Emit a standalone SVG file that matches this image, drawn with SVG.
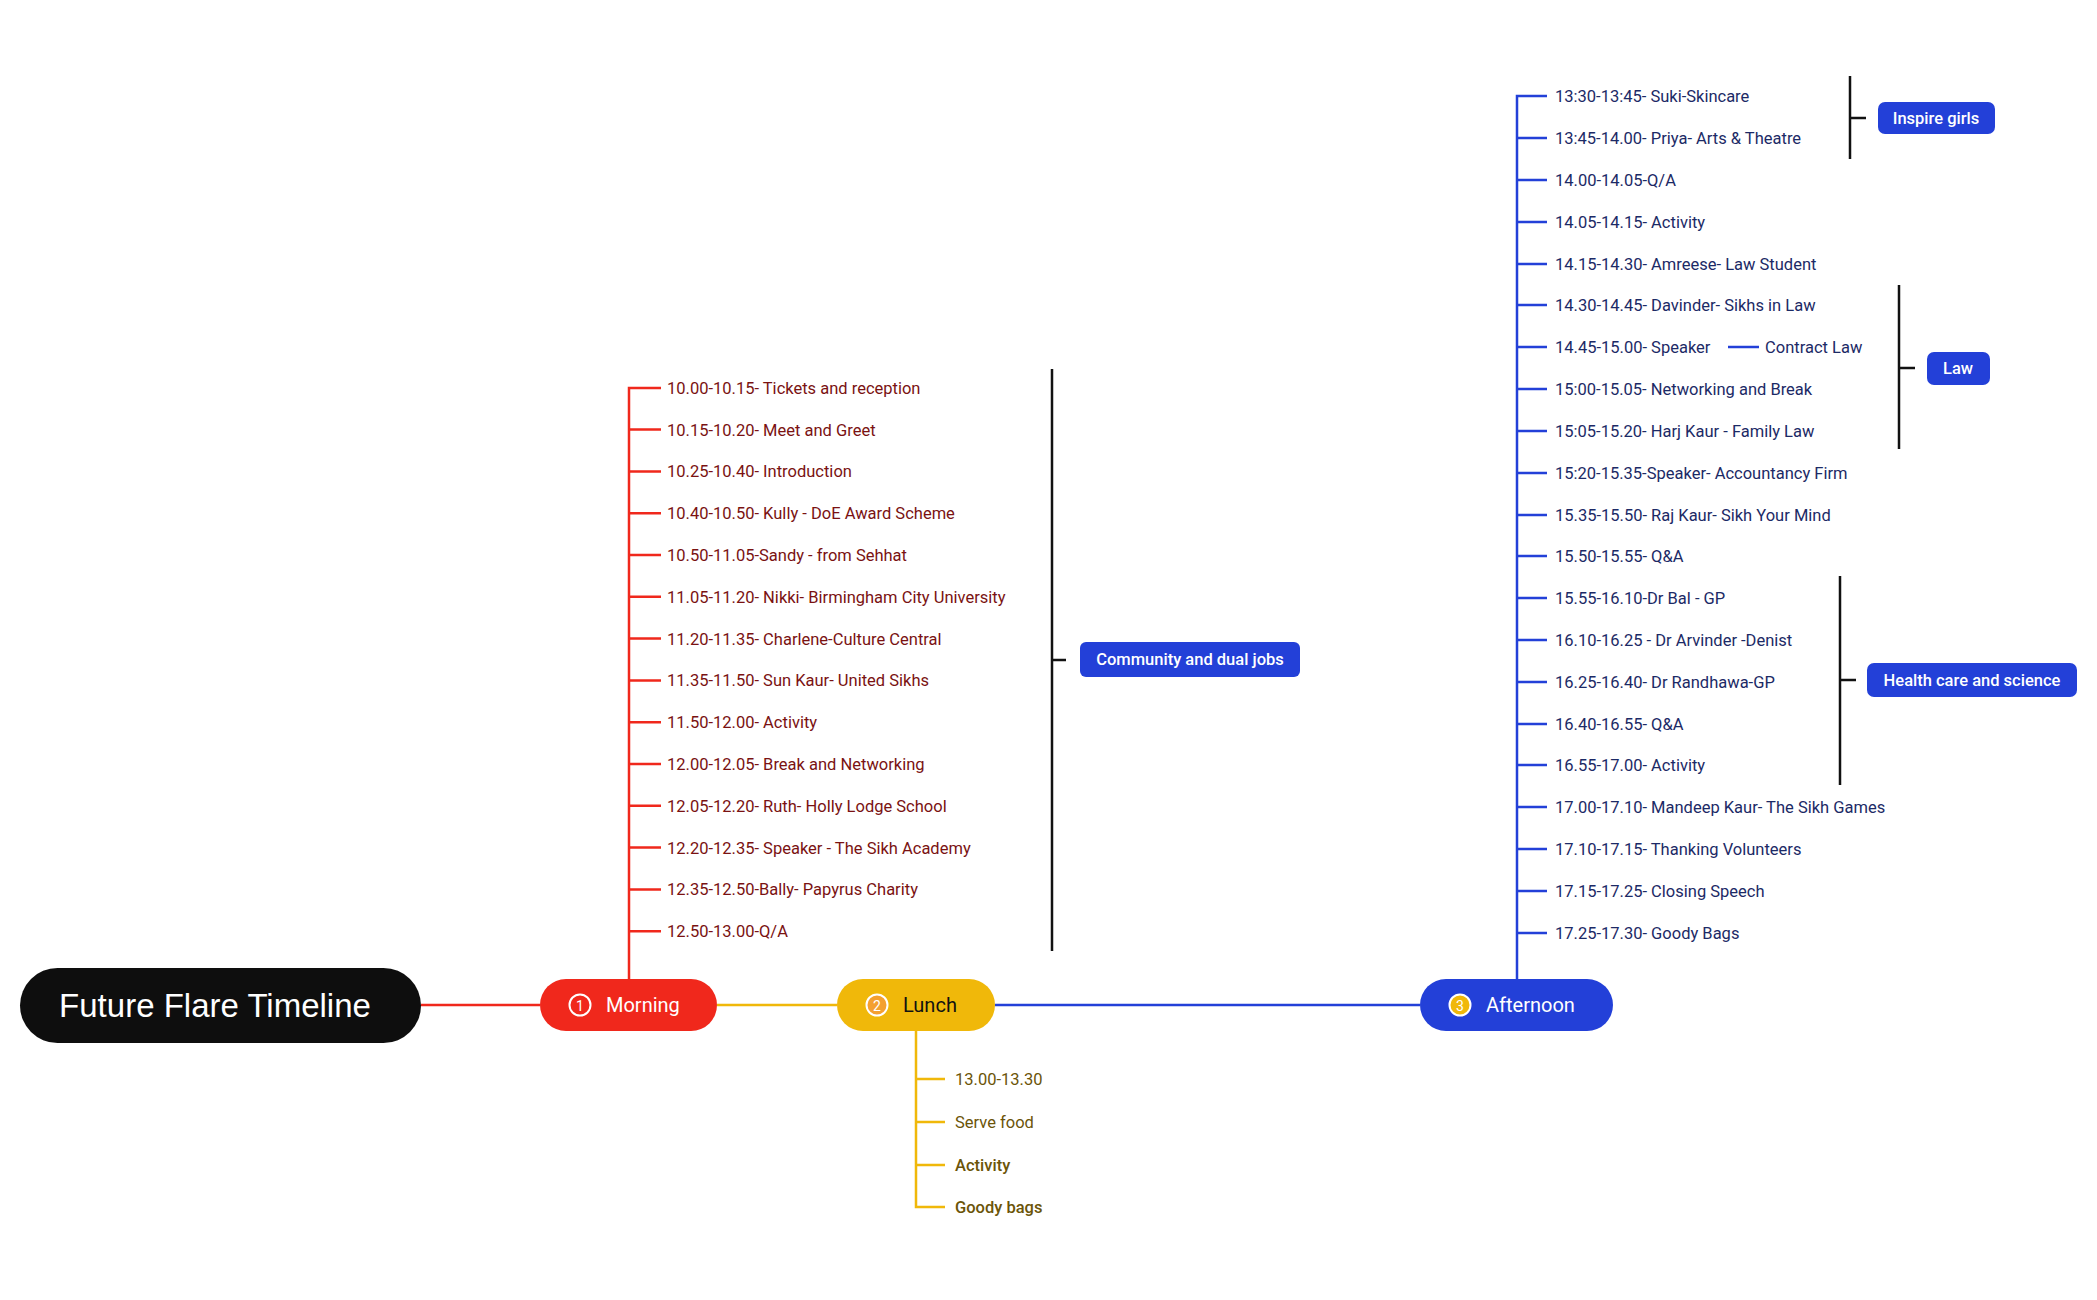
<svg xmlns="http://www.w3.org/2000/svg" width="2097" height="1300" viewBox="0 0 2097 1300">
<style>
text{font-family:Roboto,"Liberation Sans",sans-serif}
.m{fill:#7a1212;font-size:16.5px}
.a{fill:#1c2a66;font-size:16.5px}
.l{fill:#6b5408;font-size:16.5px}
.tag{fill:#ffffff;font-size:16.5px;font-weight:500}
.red{stroke:#f0281c;stroke-width:2.5;fill:none}
.blu{stroke:#2340d8;stroke-width:2.5;fill:none}
.yel{stroke:#f0b80a;stroke-width:2.5;fill:none}
.blk{stroke:#111;stroke-width:2.5;fill:none}
.box{fill:#2340d8}
</style>
<g id="connectors">
<line class="red" x1="421" y1="1005" x2="540" y2="1005" stroke-width="3.5"/>
<line class="yel" x1="717" y1="1005" x2="837" y2="1005" stroke-width="3.5"/>
<line class="blu" x1="995" y1="1005" x2="1420" y2="1005" stroke-width="3.5"/>
<path class="red" d="M629 979V388H661M629 429.6H661M629 471.4H661M629 513.2H661M629 555H661M629 596.8H661M629 638.6H661M629 680.4H661M629 722.2H661M629 764H661M629 805.8H661M629 847.6H661M629 889.4H661M629 931.2H661"/>
<path class="blu" d="M1517 979V96H1547M1517 138H1547M1517 180H1547M1517 222H1547M1517 264H1547M1517 305H1547M1517 347H1547M1517 389H1547M1517 431H1547M1517 473H1547M1517 515H1547M1517 556H1547M1517 598H1547M1517 640H1547M1517 682H1547M1517 724H1547M1517 765H1547M1517 807H1547M1517 849H1547M1517 891H1547M1517 933H1547"/>
<line class="blu" x1="1728" y1="347" x2="1759" y2="347"/>
<path class="yel" d="M916 1031V1207H945M916 1079H945M916 1122H945M916 1165H945"/>
<path class="blk" d="M1052 369V951M1052 660H1066"/>
<path class="blk" d="M1850 76V159M1850 118H1866"/>
<path class="blk" d="M1899 285V449M1899 368H1915"/>
<path class="blk" d="M1840 576V785M1840 680H1856"/>
</g>
<g id="root"><rect x="20" y="968" width="401" height="75" rx="37.5" fill="#0e0e0e"/><text x="215" y="1017" text-anchor="middle" font-size="33" fill="#fff" style="font-family:'Liberation Sans',Arial,sans-serif">Future Flare Timeline</text></g>
<g id="morning"><rect x="540" y="979" width="177" height="52" rx="26" fill="#f0281c"/><circle cx="580" cy="1005" r="10.5" fill="none" stroke="#fff" stroke-width="2"/><text x="580" y="1011" text-anchor="middle" font-size="14" fill="#fff">1</text><text x="606" y="1012" font-size="20" fill="#fff">Morning</text></g>
<g id="lunch"><rect x="837" y="979" width="158" height="52" rx="26" fill="#f0b80a"/><circle cx="877" cy="1005" r="10.5" fill="#f4a030" stroke="#fff" stroke-width="2"/><text x="877" y="1011" text-anchor="middle" font-size="14" fill="#fff">2</text><text x="903" y="1012" font-size="20" fill="#111">Lunch</text></g>
<g id="afternoon"><rect x="1420" y="979" width="193" height="52" rx="26" fill="#2340d8"/><circle cx="1460" cy="1005" r="10.5" fill="#f0b80a" stroke="#fff" stroke-width="2"/><text x="1460" y="1011" text-anchor="middle" font-size="14" fill="#fff">3</text><text x="1486" y="1012" font-size="20" fill="#fff">Afternoon</text></g>
<g id="morning-items">
<text class="m" x="667" y="394">10.00-10.15- Tickets and reception</text>
<text class="m" x="667" y="436">10.15-10.20- Meet and Greet</text>
<text class="m" x="667" y="477">10.25-10.40- Introduction</text>
<text class="m" x="667" y="519">10.40-10.50- Kully - DoE Award Scheme</text>
<text class="m" x="667" y="561">10.50-11.05-Sandy - from Sehhat</text>
<text class="m" x="667" y="603">11.05-11.20- Nikki- Birmingham City University</text>
<text class="m" x="667" y="645">11.20-11.35- Charlene-Culture Central</text>
<text class="m" x="667" y="686">11.35-11.50- Sun Kaur- United Sikhs</text>
<text class="m" x="667" y="728">11.50-12.00- Activity</text>
<text class="m" x="667" y="770">12.00-12.05- Break and Networking</text>
<text class="m" x="667" y="812">12.05-12.20- Ruth- Holly Lodge School</text>
<text class="m" x="667" y="854">12.20-12.35- Speaker - The Sikh Academy</text>
<text class="m" x="667" y="895">12.35-12.50-Bally-  Papyrus Charity</text>
<text class="m" x="667" y="937">12.50-13.00-Q/A</text>
</g>
<g id="community"><rect class="box" x="1080" y="642" width="220" height="35" rx="6"/><text class="tag" x="1190" y="665" text-anchor="middle">Community and dual jobs</text></g>
<g id="lunch-items">
<text class="l" x="955" y="1085">13.00-13.30</text>
<text class="l" x="955" y="1128">Serve food</text>
<text class="l" x="955" y="1171" font-weight="500">Activity</text>
<text class="l" x="955" y="1213" font-weight="500">Goody bags</text>
</g>
<g id="afternoon-items">
<text class="a" x="1555" y="102">13:30-13:45- Suki-Skincare</text>
<text class="a" x="1555" y="144">13:45-14.00- Priya- Arts &amp; Theatre</text>
<text class="a" x="1555" y="186">14.00-14.05-Q/A</text>
<text class="a" x="1555" y="228">14.05-14.15- Activity</text>
<text class="a" x="1555" y="270">14.15-14.30- Amreese- Law Student</text>
<text class="a" x="1555" y="311">14.30-14.45- Davinder- Sikhs in Law</text>
<text class="a" x="1555" y="353">14.45-15.00- Speaker</text>
<text class="a" x="1765" y="353">Contract Law</text>
<text class="a" x="1555" y="395">15:00-15.05- Networking and Break</text>
<text class="a" x="1555" y="437">15:05-15.20- Harj Kaur - Family Law</text>
<text class="a" x="1555" y="479">15:20-15.35-Speaker- Accountancy Firm</text>
<text class="a" x="1555" y="521">15.35-15.50- Raj Kaur- Sikh Your Mind</text>
<text class="a" x="1555" y="562">15.50-15.55- Q&amp;A</text>
<text class="a" x="1555" y="604">15.55-16.10-Dr Bal -  GP</text>
<text class="a" x="1555" y="646">16.10-16.25 - Dr Arvinder -Denist</text>
<text class="a" x="1555" y="688">16.25-16.40- Dr Randhawa-GP</text>
<text class="a" x="1555" y="730">16.40-16.55- Q&amp;A</text>
<text class="a" x="1555" y="771">16.55-17.00- Activity</text>
<text class="a" x="1555" y="813">17.00-17.10- Mandeep Kaur- The Sikh Games</text>
<text class="a" x="1555" y="855">17.10-17.15- Thanking Volunteers</text>
<text class="a" x="1555" y="897">17.15-17.25- Closing Speech</text>
<text class="a" x="1555" y="939">17.25-17.30- Goody Bags</text>
</g>
<g id="inspire"><rect class="box" x="1878" y="102" width="117" height="32" rx="7"/><text class="tag" x="1936" y="124" text-anchor="middle">Inspire girls</text></g>
<g id="law"><rect class="box" x="1927" y="352" width="63" height="33" rx="7"/><text class="tag" x="1958" y="374" text-anchor="middle">Law</text></g>
<g id="health"><rect class="box" x="1867" y="663" width="210" height="34" rx="7"/><text class="tag" x="1972" y="686" text-anchor="middle">Health care and science</text></g>
</svg>
